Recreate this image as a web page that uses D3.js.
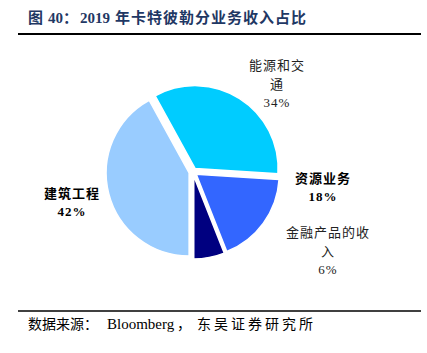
<!DOCTYPE html>
<meta charset="utf-8">
<style>
  body { margin: 0; background: #fff; }
  svg { display: block; }
  .title { font-family: "Liberation Serif", "Noto Sans CJK SC", serif; font-weight: bold; font-size: 15px; fill: #1f3864; }
  .lbl { font-family: "Liberation Serif", "Noto Sans CJK SC", serif; font-size: 13px; fill: #222; letter-spacing: 1px; }
  .lbl.bold { font-weight: bold; fill: #000; }
  .src { font-family: "Liberation Serif", "Noto Sans CJK SC", serif; font-size: 14px; fill: #000; }
</style>
<body>
</body>
<script src="https://cdn.jsdelivr.net/npm/d3@7"></script>
<script>
  const w = 427, h = 353;

  const segments = ['能源和交通', '资源业务', '金融产品的收入', '建筑工程'];
  const shares = [34, 18, 6, 42];
  const colors = ['#00ccff', '#3366ff', '#000080', '#99ccff'];
  // label lines as wrapped in the picture
  const labelLines = [['能源和交', '通', '34%'], ['资源业务', '18%'], ['金融产品的收', '入', '6%'], ['建筑工程', '42%']];
  const labelBold = [false, true, false, true];
  const labelPos = [[277, 65], [323, 178], [328, 232], [72, 193]];

  const titleParts = [['图', 28, 0], ['40：', 48, 0], ['2019', 80, 0], ['年卡特彼勒分业务收入占比', 115, 1]];
  const sourceParts = [['数据来源：', 28, 0], ['Bloomberg', 107, 0, 15], ['，', 177, 0], ['东吴证券研究所', 197, 3]];

  const cx = 193, cy = 172, r = 83, explode = 4;

  const svg = d3.select('body').append('svg')
    .attr('width', w)
    .attr('height', h);

  function parts(cls, y, list) {
    const t = svg.append('text').attr('class', cls).attr('y', y);
    list.forEach(([s, x, ls, fs]) => {
      const sp = t.append('tspan').attr('x', x).style('letter-spacing', ls + 'px').text(s);
      if (fs) sp.style('font-size', fs + 'px');
    });
  }

  parts('title', 23, titleParts);

  svg.append('line')
    .attr('x1', 18).attr('x2', 421).attr('y1', 34).attr('y2', 34)
    .attr('stroke', '#000').attr('stroke-width', 2);

  svg.append('line')
    .attr('x1', 18).attr('x2', 421).attr('y1', 311).attr('y2', 311)
    .attr('stroke', '#000').attr('stroke-width', 1.5);

  parts('src', 329, sourceParts);

  const start = -28.8 * Math.PI / 180;
  const pie = d3.pie().sort(null)
    .startAngle(start).endAngle(start + 2 * Math.PI);
  const arc = d3.arc().innerRadius(0).outerRadius(r);

  const g = svg.append('g').attr('transform', `translate(${cx}, ${cy})`);

  g.selectAll('path')
    .data(pie(shares))
    .join('path')
    .attr('transform', d => {
      const a = (d.startAngle + d.endAngle) / 2;
      return `translate(${Math.sin(a) * explode}, ${-Math.cos(a) * explode})`;
    })
    .attr('d', arc)
    .attr('fill', (d, i) => colors[i])
    .attr('stroke', '#fff')
    .attr('stroke-width', 1.5);

  labelLines.forEach((lines, i) => {
    const t = svg.append('text')
      .attr('class', labelBold[i] ? 'lbl bold' : 'lbl')
      .attr('text-anchor', 'middle')
      .attr('dominant-baseline', 'central');
    const lh = lines.length === 2 ? 18 : 18.5;
    lines.forEach((s, j) => {
      t.append('tspan')
        .attr('x', labelPos[i][0])
        .attr('y', labelPos[i][1] + j * lh)
        .text(s);
    });
  });
</script>
